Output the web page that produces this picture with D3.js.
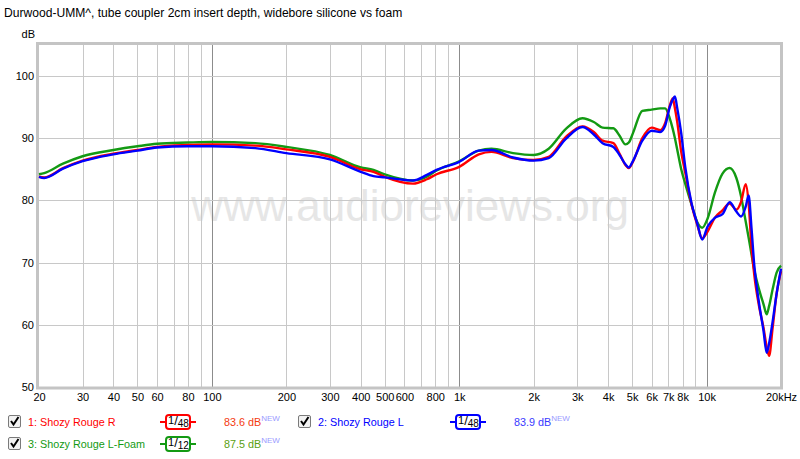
<!DOCTYPE html>
<html><head><meta charset="utf-8">
<script src="https://cdn.jsdelivr.net/npm/d3@7"></script>
<style>body{margin:0;background:#fff}svg{display:block;font-family:"Liberation Sans",Arial,sans-serif}</style>
</head><body><svg id="c" width="800" height="459"></svg>
<script>
const title = "Durwood-UMM^, tube coupler 2cm insert depth, widebore silicone vs foam";
const freqs = [20,21,25,30,40,50,60,80,100,150,200,300,400,450,500,650,740,810,1000,1200,1350,1650,2000,2300,2700,3150,3500,3800,4200,4450,4700,4850,5050,5500,6000,6500,6800,7100,7300,7450,7600,7900,8200,8700,9200,9600,10100,10800,11600,12400,13200,13800,14400,14800,15200,15600,16300,17000,17500,17900,18500,19200,20000];
const redR = [83.8,83.7,85.2,86.4,87.5,88.1,88.6,88.9,89.0,88.8,88.2,87.0,85.0,84.6,83.8,82.7,83.4,84.2,85.4,87.4,87.8,86.8,86.5,87.0,90.2,91.9,91.0,89.6,89.2,87.5,85.7,85.2,86.3,90.0,91.7,91.3,92.4,95.2,96.4,94.8,92.8,87.8,84.5,79.3,75.9,73.9,75.0,77.2,78.4,79.5,78.5,79.8,82.6,79.5,72.5,68.0,63.0,59.5,56.5,55.0,59.5,65.0,68.6];
const blueL = [83.8,83.6,85.1,86.3,87.4,88.0,88.5,88.7,88.7,88.4,87.6,86.6,84.6,83.9,83.7,83.2,84.1,84.9,86.2,88.0,88.1,86.9,86.4,86.8,89.9,91.8,90.6,89.2,88.6,87.3,85.8,85.3,86.4,89.6,91.2,91.0,92.0,95.0,96.2,96.7,95.0,90.8,85.4,79.5,76.1,73.7,75.8,77.2,77.8,79.7,78.2,77.4,79.0,80.8,75.5,69.5,63.5,59.0,55.5,57.0,60.5,65.0,69.0];
const greenF = [84.2,84.4,85.9,87.1,88.1,88.7,89.1,89.3,89.4,89.2,88.6,87.3,85.3,84.9,84.2,83.2,83.8,84.8,86.3,88.0,88.3,87.6,87.3,88.3,91.5,93.2,92.6,91.7,91.6,90.4,89.0,89.3,90.9,94.4,94.6,94.8,94.8,93.2,91.5,90.0,88.3,85.0,82.7,79.3,76.4,75.6,77.1,81.2,84.3,85.2,83.6,80.6,76.6,74.0,71.3,68.8,65.7,63.3,61.7,63.0,65.7,68.4,69.5];
const seriesNames = ["1: Shozy Rouge R","2: Shozy Rouge L","3: Shozy Rouge L-Foam"];
const seriesColors = ["#ff0000","#0000ff","#139a13"];
const smoothing = ["48","48","12"];
const levels = ["83.6 dB","83.9 dB","87.5 dB"];
const levelColors = ["#f43a10","#3a3aff","#5aa010"];
const xTickVals = [20,30,40,50,60,80,100,200,300,400,500,600,800,1000,2000,3000,4000,5000,6000,7000,8000,10000,20000];
const xTickLabels = ["20","30","40","50","60","80","100","200","300","400","500","600","800","1k","2k","3k","4k","5k","6k","7k","8k","10k","20kHz"];
const yTicks = [50,60,70,80,90,100];

const svg = d3.select("#c");
const x = d3.scaleLog().domain([20,20000]).range([39,781]);
const y = d3.scaleLinear().domain([50,105]).range([387,44.9]);

svg.append("text").attr("x",4).attr("y",17).attr("font-size",12.1).attr("fill","#000").text(title);
svg.append("text").attr("x",35).attr("y",38).attr("font-size",11).attr("text-anchor","end").text("dB");

// watermark
svg.append("text").attr("x",410).attr("y",221).attr("text-anchor","middle").attr("font-size",44)
  .attr("fill","#e6e6e6").text("www.audioreviews.org");

// grid
const minor = [];
for (let d=10; d<=10000; d*=10) for (let k=1;k<=9;k++){const f=d*k; if(f>20&&f<20000) minor.push(f);}
const g = svg.append("g");
g.selectAll("line.v").data(minor).join("line")
  .attr("x1",d=>Math.round(x(d))+0.5).attr("x2",d=>Math.round(x(d))+0.5)
  .attr("y1",y(105)).attr("y2",y(50))
  .attr("stroke",d=>[100,1000,10000].includes(d)?"#8c8c8c":"#c8c8c8").attr("stroke-width",1);
g.selectAll("line.h").data(yTicks.filter(v=>v>50)).join("line")
  .attr("x1",x(20)).attr("x2",x(20000))
  .attr("y1",d=>Math.round(y(d))+0.5).attr("y2",d=>Math.round(y(d))+0.5)
  .attr("stroke","#c8c8c8");

// frame
svg.append("rect").attr("x",37.5).attr("y",43.5).attr("width",744).attr("height",344.5)
  .attr("fill","none").attr("stroke","#c4c4c4").attr("stroke-width",3);

// axes labels
const xa = d3.axisBottom(x).tickValues(xTickVals).tickFormat((d,i)=>xTickLabels[i]).tickSize(0).tickPadding(4);
const xg = svg.append("g").attr("transform","translate(0,389)").call(xa);
xg.select(".domain").remove();
xg.selectAll("text").attr("font-size",11).attr("fill","#000").attr("font-family","Liberation Sans, Arial");
const ya = d3.axisLeft(y).tickValues(yTicks).tickSize(0).tickPadding(4);
const yg = svg.append("g").attr("transform","translate(38,0)").call(ya);
yg.select(".domain").remove();
yg.selectAll("text").attr("font-size",11).attr("fill","#000").attr("font-family","Liberation Sans, Arial");

// curves
const line = d3.line().x(d=>x(d[0])).y(d=>y(d[1])).curve(d3.curveMonotoneX);
const data = [redR, blueL, greenF];
[2,0,1].forEach(i=>{
  svg.append("path").attr("d", line(freqs.map((f,j)=>[f,data[i][j]])))
    .attr("fill","none").attr("stroke",seriesColors[i]).attr("stroke-width",2.4)
    .attr("stroke-linejoin","round");
});

// legend
const pos = [[0,422],[290,422],[0,444]];
seriesNames.forEach((name,i)=>{
  const [ox,oy] = pos[i];
  const lg = svg.append("g").attr("transform",`translate(${ox},${oy})`);
  lg.append("rect").attr("x",8.5).attr("y",-6.5).attr("width",12).attr("height",12).attr("rx",1.5)
    .attr("fill","#f2f2f2").attr("stroke","#7a7a7a");
  lg.append("path").attr("d","M11,-1 L13.5,2.5 L18.5,-5").attr("fill","none").attr("stroke","#000").attr("stroke-width",2);
  lg.append("text").attr("x",28).attr("y",4).attr("font-size",10.8).attr("fill",seriesColors[i]).text(name);
  lg.append("line").attr("x1",160).attr("x2",196).attr("y1",0).attr("y2",0).attr("stroke",seriesColors[i]).attr("stroke-width",2);
  lg.append("rect").attr("x",166).attr("y",-7).attr("width",24).attr("height",14).attr("rx",3)
    .attr("fill","#fff").attr("stroke",seriesColors[i]).attr("stroke-width",2);
  const t = lg.append("text").attr("x",168).attr("y",2).attr("font-size",11).attr("fill","#000");
  t.append("tspan").text("1");
  t.append("tspan").attr("font-size",13).attr("dy",1).text("/");
  t.append("tspan").attr("font-size",10).attr("dy",2).text(smoothing[i]);
  const lt = lg.append("text").attr("x",224).attr("y",4).attr("font-size",10.8).attr("fill",levelColors[i]).text(levels[i]);
  lt.append("tspan").attr("font-size",8).attr("dy",-5).attr("fill","#9a9aff").text("NEW");
});
</script></body></html>
